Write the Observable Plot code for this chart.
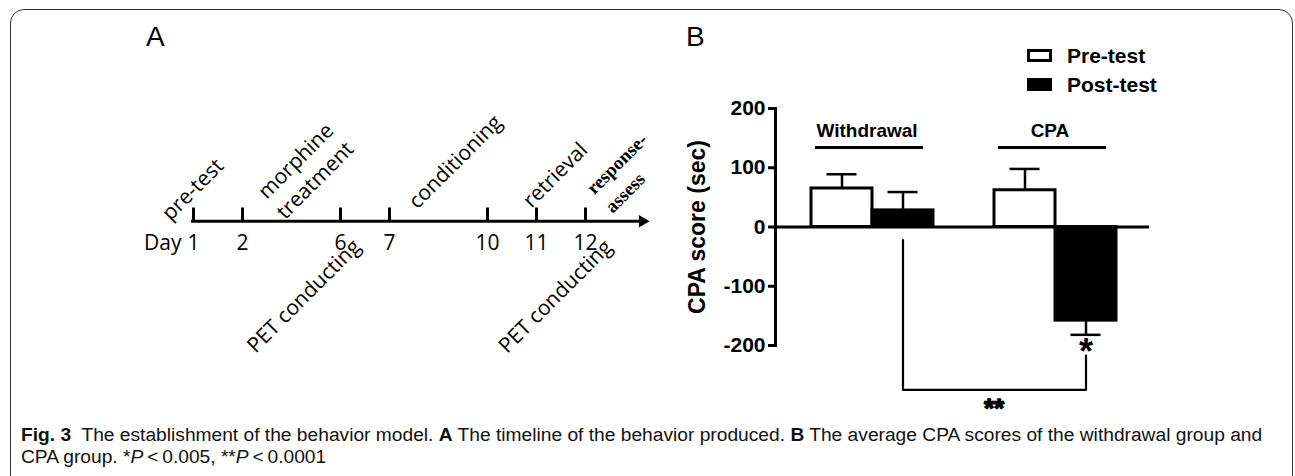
<!DOCTYPE html>
<html>
<head>
<meta charset="utf-8">
<script src="https://cdn.jsdelivr.net/npm/d3@7"></script>
<script src="https://cdn.jsdelivr.net/npm/@observablehq/plot@0.6"></script>
<style>
  body { margin: 0; background: #fff; }
  #wrap { position: relative; width: 1295px; height: 476px; overflow: hidden; background: #fff; }
  #frame { position: absolute; left: 10px; top: 9px; width: 1283px; height: 540px; border: 1.5px solid #333; border-radius: 14px; box-sizing: border-box; }
  #panelA { position: absolute; left: 0; top: 0; }
  #panelB { position: absolute; left: 670px; top: 0; }
  .letter { position: absolute; font-family: "Liberation Sans", Arial, sans-serif; font-size: 28px; line-height: 28px; color: #000; }
  #legend { position: absolute; left: 1027px; top: 49px; font-family: "Liberation Sans", Arial, sans-serif; font-weight: bold; font-size: 21px; color: #000; }
  #legend .row { position: absolute; left: 0; height: 13px; display: flex; align-items: center; white-space: nowrap; }
  #legend .sw { width: 25px; height: 13px; box-sizing: border-box; border: 3px solid #000; flex: none; }
  #legend .lab { margin-left: 15px; line-height: 13px; }
  #caption { position: absolute; left: 21px; top: 424px; font-family: "Liberation Sans Narrow", "Liberation Sans", sans-serif; font-size: 19.2px; line-height: 22px; white-space: nowrap; color: #111; }
</style>
</head>
<body>
<div id="wrap">
  <div id="frame"></div>
  <div id="panelA"></div>
  <div id="panelB"></div>
  <div class="letter" style="left:146px;top:23px;">A</div>
  <div class="letter" style="left:686px;top:23px;">B</div>
  <div id="legend"></div>
  <div id="caption"><b>Fig. 3</b>&nbsp; The establishment of the behavior model. <b>A</b> The timeline of the behavior produced. <b>B</b> The average CPA scores of the withdrawal group and<br>CPA group. *<i>P</i>&thinsp;&lt;&thinsp;0.005, **<i>P</i>&thinsp;&lt;&thinsp;0.0001</div>
</div>
<script>
// ---------- Panel A data: timeline ----------
const timelineDays = ["1", "2", "6", "7", "10", "11", "12"];
const timelineSlots = ["1", "2", "·a", "6", "7", "·b", "10", "11", "12", "→"];
const dayPrefix = "Day";
const phaseLabels = ["pre-test", "morphine\ntreatment", "conditioning", "retrieval", "response-\nassess"];
const phaseSlots = ["1", "·a", "·b", "11", "12"];
const scanLabels = ["PET conducting", "PET conducting"];
const scanSlots = ["6", "12"];

// ---------- Panel B data: CPA scores ----------
const groups = ["Withdrawal", "CPA"];
const tests = ["Pre-test", "Post-test"];
const testColors = ["white", "black"];
const meanScores = [[65, 28], [62, -158]];   // [group][test]
const semScores = [[24, 31], [36, 24]];
const yTicks = [-200, -100, 0, 100, 200];
const yLabel = "CPA score (sec)";
const significance = {from: "Withdrawal Post-test", to: "CPA Post-test", single: "*", double: "**"};

// ---------- layout (positions / nudges, not data) ----------
const phaseNudge = [[-2, -33], [12.7, -51.7], [15.5, -60.7], [17.5, -47.4], [12, -22.5]];
const scanNudge = [[-36.5, 75], [-30, 75.3]];
const groupLineLevel = 134;
const bracketLevels = {fromTop: -22, base: -275, toTop: -217};

// ---------- Panel A ----------
const phaseMarks = phaseLabels.map((t, i) => {
  const serif = i === 4;
  return Plot.text([t], {
    x: [phaseSlots[i]], y: [0], text: d => d,
    dx: phaseNudge[i][0], dy: phaseNudge[i][1],
    rotate: -45,
    textAnchor: serif ? "start" : "middle",
    lineAnchor: "middle",
    lineHeight: serif ? 1.38 : 1.3,
    fontFamily: serif ? "'Liberation Serif', serif" : undefined,
    fontWeight: serif ? "bold" : undefined,
    fontSize: serif ? 19 : undefined
  });
});
const scanMarks = scanLabels.map((t, i) => Plot.text([t], {
  x: [scanSlots[i]], y: [0], text: d => d,
  dx: scanNudge[i][0], dy: scanNudge[i][1],
  rotate: -45, textAnchor: "middle", lineAnchor: "middle"
}));

const plotA = Plot.plot({
  width: 670, height: 400, margin: 0,
  style: {fontFamily: "'Open Sans', sans-serif", fontSize: "21px", background: "transparent", color: "#000"},
  x: {type: "point", domain: timelineSlots, range: [191, 636.5], padding: 0, axis: null},
  y: {domain: [0, 1], range: [220.7, 207.5], axis: null},
  marks: [
    Plot.ruleY([0], {x1: [timelineSlots[0]], x2: [timelineSlots[timelineSlots.length - 1]], strokeWidth: 3, insetLeft: -2, insetRight: -6}),
    Plot.ruleX(timelineDays, {x: d => d, y1: 0, y2: 1, strokeWidth: 3}),
    Plot.dot([timelineSlots[timelineSlots.length - 1]], {x: d => d, y: 0, dx: 8, symbol: "triangle", rotate: 90, r: 4.6, fill: "black", stroke: null}),
    Plot.text(timelineDays, {x: d => d, y: 0, dy: 22, text: d => d}),
    Plot.text([dayPrefix], {x: () => timelineDays[0], y: 0, dy: 22, dx: -12, text: d => d, textAnchor: "end"}),
    ...phaseMarks,
    ...scanMarks
  ]
});
document.getElementById("panelA").append(plotA);

// ---------- Panel B ----------
const bars = groups.flatMap((g, i) => tests.map((t, j) => ({
  group: g, test: t, key: g + " " + t, mean: meanScores[i][j], sem: semScores[i][j]
})));
const barKeys = bars.map(d => d.key);
const xDomain = [barKeys[0], barKeys[1], "gap", barKeys[2], barKeys[3]];
const errEnd = d => d.mean + Math.sign(d.mean) * d.sem;
const groupSpans = groups.map(g => ({group: g, first: g + " " + tests[0], second: g + " " + tests[1]}));
const bracket = [
  {key: significance.from, y: bracketLevels.fromTop},
  {key: significance.from, y: bracketLevels.base},
  {key: significance.to, y: bracketLevels.base},
  {key: significance.to, y: bracketLevels.toTop}
];
const starBar = bars.find(d => d.key === significance.to);

const plotB = Plot.plot({
  width: 625, height: 440,
  marginLeft: 105, marginRight: 146, marginTop: 108, marginBottom: 95,
  style: {fontFamily: "'Liberation Sans', Arial, sans-serif", fontSize: "21px", fontWeight: "bold", background: "transparent", color: "#000"},
  x: {type: "band", domain: xDomain, range: [139, 447], padding: 0, axis: null},
  y: {domain: [-200, 200], axis: null},
  color: {domain: tests, range: testColors},
  marks: [
    Plot.frame({anchor: "left", strokeWidth: 3}),
    Plot.axisY({ticks: yTicks, tickSize: 7, tickPadding: 3, strokeWidth: 3, tickFormat: d => String(d), label: null}),
    Plot.text([yLabel], {frameAnchor: "left", text: d => d, rotate: -90, dx: -78, fontSize: 23, textAnchor: "middle", lineAnchor: "middle"}),
    Plot.barY(bars, {x: "key", y: "mean", fill: "test", stroke: "black", strokeWidth: 3}),
    Plot.ruleX(bars, {x: "key", y1: "mean", y2: errEnd, strokeWidth: 2.5}),
    Plot.tickY(bars, {x: "key", y: errEnd, inset: 15.5, strokeWidth: 2.5}),
    Plot.ruleY([0], {strokeWidth: 3}),
    Plot.ruleY(groupSpans, {x1: "first", x2: "second", y: () => groupLineLevel, insetLeft: 4, insetRight: 10, strokeWidth: 3}),
    Plot.text(groupSpans, {x: "first", y: () => groupLineLevel, text: "group", dx: 25, dy: -17, fontSize: 19}),
    Plot.line(bracket, {x: "key", y: "y", strokeWidth: 2.2, stroke: "black"}),
    Plot.text([starBar], {x: "key", y: errEnd, text: () => significance.single, lineAnchor: "top", dy: 4, fontSize: 36}),
    Plot.text([significance], {x: () => xDomain[3], y: () => bracketLevels.base, text: "double", lineAnchor: "top", dy: 9, dx: -31, fontSize: 26, fill: "black", stroke: "black", strokeWidth: 1.4, paintOrder: "fill"})
  ]
});
document.getElementById("panelB").append(plotB);

// ---------- Legend ----------
const legend = d3.select("#legend");
tests.forEach((t, i) => {
  const row = legend.append("div").attr("class", "row").style("top", (i * 29) + "px");
  row.append("span").attr("class", "sw").style("background", testColors[i]);
  row.append("span").attr("class", "lab").text(t);
});
</script>
</body>
</html>
